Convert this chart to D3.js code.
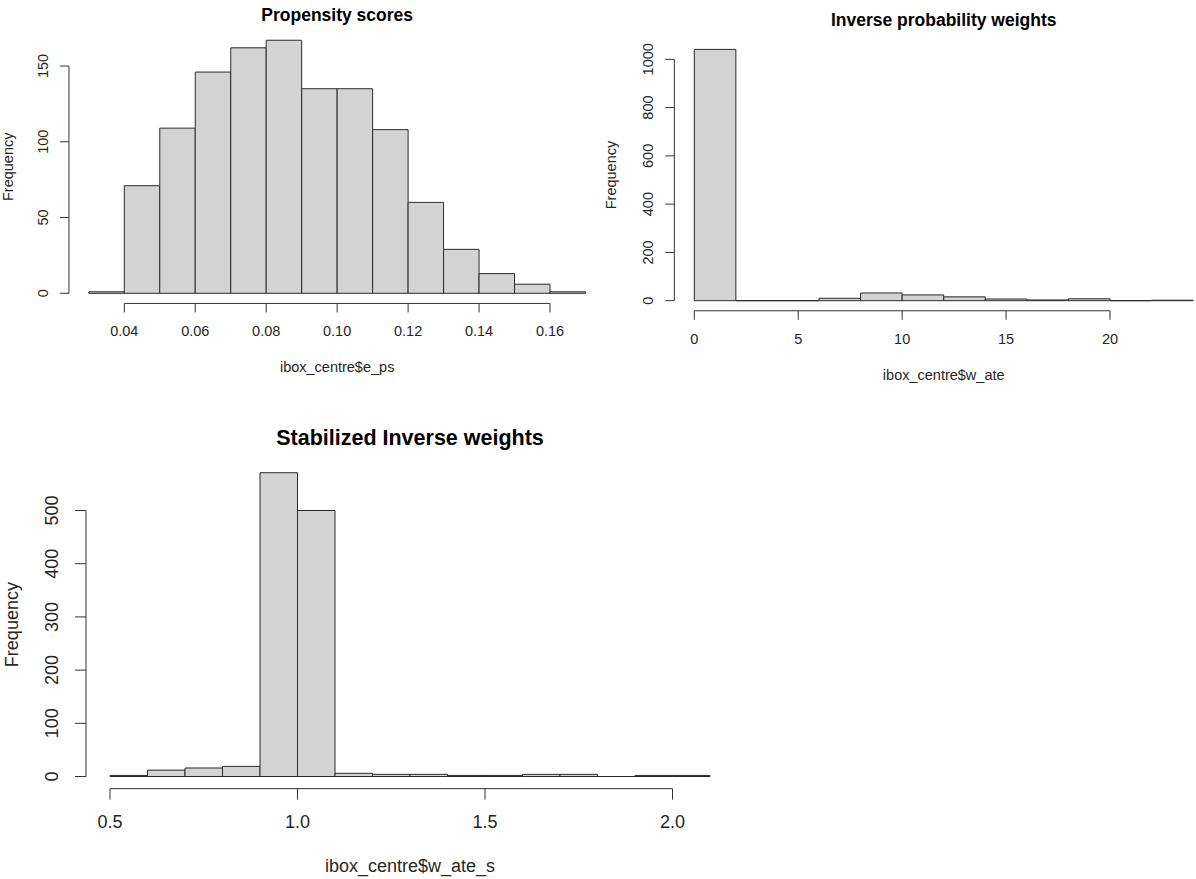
<!DOCTYPE html>
<html>
<head>
<meta charset="utf-8">
<script src="https://cdn.jsdelivr.net/npm/d3@7"></script>
<style>
  html, body { margin: 0; padding: 0; background: #ffffff; }
  svg { display: block; font-family: "Liberation Sans", Arial, sans-serif; }
</style>
</head>
<body>
<svg id="chart" width="1196" height="879"></svg>
<script>
// ---- Propensity scores (ibox_centre$e_ps) ----
const psBreaks = [0.03, 0.04, 0.05, 0.06, 0.07, 0.08, 0.09, 0.10, 0.11, 0.12, 0.13, 0.14, 0.15, 0.16, 0.17];
const psCounts = [1, 71, 109, 146, 162, 167, 135, 135, 108, 60, 29, 13, 6, 1];
const psXTicks = [0.04, 0.06, 0.08, 0.10, 0.12, 0.14, 0.16];
const psYTicks = [0, 50, 100, 150];

// ---- Inverse probability weights (ibox_centre$w_ate) ----
const ipwBreaks = [0, 2, 4, 6, 8, 10, 12, 14, 16, 18, 20, 22, 24];
const ipwCounts = [1041, 0, 0, 10, 32, 24, 16, 7, 3, 8, 0, 2];
const ipwXTicks = [0, 5, 10, 15, 20];
const ipwYTicks = [0, 200, 400, 600, 800, 1000];

// ---- Stabilized inverse weights (ibox_centre$w_ate_s) ----
const sipwBreaks = [0.5, 0.6, 0.7, 0.8, 0.9, 1.0, 1.1, 1.2, 1.3, 1.4, 1.5, 1.6, 1.7, 1.8, 1.9, 2.0, 2.1];
const sipwCounts = [2, 12, 16, 19, 571, 500, 6, 4, 4, 2, 2, 4, 4, 0, 2, 2];
const sipwXTicks = [0.5, 1.0, 1.5, 2.0];
const sipwYTicks = [0, 100, 200, 300, 400, 500];

const svg = d3.select("#chart");

// One base-graphics style histogram panel.
function histPanel(opt) {
  const g = svg.append("g");
  const x = d3.scaleLinear().domain(opt.xAnchor).range(opt.xPix);
  const y = d3.scaleLinear().domain(opt.yAnchor).range(opt.yPix);

  // plot region = data range padded by 4% on each side
  const xr = [opt.breaks[0], opt.breaks[opt.breaks.length - 1]];
  const yr = [0, d3.max(opt.counts)];
  const padX = (xr[1] - xr[0]) * 0.04, padY = (yr[1] - yr[0]) * 0.04;
  const left = x(xr[0] - padX), right = x(xr[1] + padX);
  const bottom = y(yr[0] - padY), top = y(yr[1] + padY);

  const bins = opt.counts.map((c, i) => ({ x0: opt.breaks[i], x1: opt.breaks[i + 1], n: c }));

  g.append("g").selectAll("path").data(bins).join("path")
    .attr("d", d => {
      const x0 = x(d.x0), x1 = x(d.x1), y0 = y(0), y1 = y(d.n);
      return `M${x0},${y0}H${x1}V${y1}H${x0}Z`;
    })
    .attr("fill", "#d3d3d3")
    .attr("stroke", "#2a2a2a")
    .attr("stroke-width", 1);

  const axisColor = "#333";
  const textColor = "#262626";

  // x axis: line spans first to last tick, ticks point outward
  const xa = g.append("g");
  xa.append("line")
    .attr("x1", x(opt.xTicks[0])).attr("x2", x(opt.xTicks[opt.xTicks.length - 1]))
    .attr("y1", bottom).attr("y2", bottom)
    .attr("stroke", axisColor);
  xa.selectAll("line.tick").data(opt.xTicks).join("line").attr("class", "tick")
    .attr("x1", d => x(d)).attr("x2", d => x(d))
    .attr("y1", bottom).attr("y2", bottom + opt.tickLen)
    .attr("stroke", axisColor);
  xa.selectAll("text").data(opt.xTicks).join("text")
    .attr("x", d => x(d)).attr("y", bottom + opt.xLabOff)
    .attr("text-anchor", "middle").attr("dominant-baseline", "central")
    .attr("font-size", opt.fs).attr("fill", textColor)
    .text(d => d3.format(opt.xFmt)(d));

  // y axis
  const ya = g.append("g");
  ya.append("line")
    .attr("x1", left).attr("x2", left)
    .attr("y1", y(opt.yTicks[0])).attr("y2", y(opt.yTicks[opt.yTicks.length - 1]))
    .attr("stroke", axisColor);
  ya.selectAll("line.tick").data(opt.yTicks).join("line").attr("class", "tick")
    .attr("x1", left).attr("x2", left - opt.tickLen)
    .attr("y1", d => y(d)).attr("y2", d => y(d))
    .attr("stroke", axisColor);
  ya.selectAll("text").data(opt.yTicks).join("text")
    .attr("transform", d => `translate(${left - opt.yLabOff},${y(d)}) rotate(-90)`)
    .attr("text-anchor", "middle").attr("dominant-baseline", "central")
    .attr("font-size", opt.fs).attr("fill", textColor)
    .text(d => d);

  // titles
  const cx = (left + right) / 2, cy = (top + bottom) / 2;
  g.append("text")
    .attr("x", cx).attr("y", opt.titleY)
    .attr("text-anchor", "middle").attr("dominant-baseline", "central")
    .attr("font-size", opt.titleFs).attr("font-weight", "bold").attr("fill", "#000")
    .text(opt.title);
  g.append("text")
    .attr("x", cx).attr("y", opt.xTitleY)
    .attr("text-anchor", "middle").attr("dominant-baseline", "central")
    .attr("font-size", opt.fs).attr("fill", textColor)
    .text(opt.xTitle);
  g.append("text")
    .attr("transform", `translate(${opt.yTitleX},${cy}) rotate(-90)`)
    .attr("text-anchor", "middle").attr("dominant-baseline", "central")
    .attr("font-size", opt.fs).attr("fill", textColor)
    .text("Frequency");
}

histPanel({
  breaks: psBreaks, counts: psCounts, xTicks: psXTicks, yTicks: psYTicks,
  xAnchor: [0.04, 0.16], xPix: [124.3, 550],
  yAnchor: [0, 150], yPix: [293.3, 66],
  xFmt: ".2f", fs: 14.5, titleFs: 17.5, tickLen: 9,
  xLabOff: 28, yLabOff: 26,
  title: "Propensity scores", titleY: 15,
  xTitle: "ibox_centre$e_ps", xTitleY: 367, yTitleX: 8
});

histPanel({
  breaks: ipwBreaks, counts: ipwCounts, xTicks: ipwXTicks, yTicks: ipwYTicks,
  xAnchor: [0, 20], xPix: [694.3, 1110],
  yAnchor: [0, 1000], yPix: [300.7, 59.3],
  xFmt: "d", fs: 14.5, titleFs: 17.5, tickLen: 9,
  xLabOff: 28, yLabOff: 26,
  title: "Inverse probability weights", titleY: 20,
  xTitle: "ibox_centre$w_ate", xTitleY: 375, yTitleX: 611
});

histPanel({
  breaks: sipwBreaks, counts: sipwCounts, xTicks: sipwXTicks, yTicks: sipwYTicks,
  xAnchor: [0.5, 2.0], xPix: [110, 672.5],
  yAnchor: [0, 500], yPix: [776.5, 510.5],
  xFmt: ".1f", fs: 18, titleFs: 21.5, tickLen: 11,
  xLabOff: 33, yLabOff: 34,
  title: "Stabilized Inverse weights", titleY: 438,
  xTitle: "ibox_centre$w_ate_s", xTitleY: 866, yTitleX: 12
});
</script>
</body>
</html>
